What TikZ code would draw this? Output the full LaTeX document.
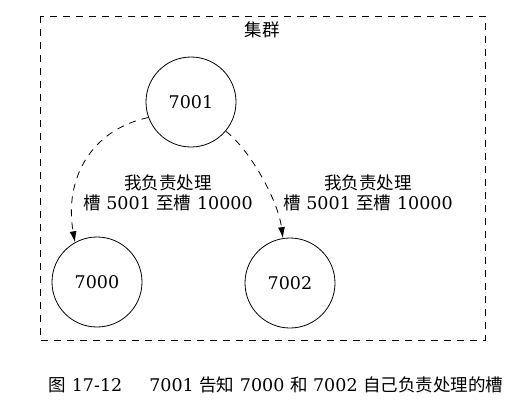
\documentclass[tikz,border=0pt]{standalone}
\usepackage{fontspec}
\setmainfont{DejaVu Serif}
\newfontfamily\cjk{Noto Sans CJK SC}
\usetikzlibrary{arrows.meta}

\begin{document}
\begin{tikzpicture}[x=1pt, y=-1pt,
    font=\fontsize{17.5}{19.5}\selectfont,
    server/.style={circle, draw, line width=0.8pt, minimum size=90pt, inner sep=0pt},
    slotlabel/.style={align=center, inner sep=0pt},
    move/.style={dash pattern=on 7pt off 6pt, line width=0.8pt, -{Latex[length=11pt, width=7pt]}}]
    \useasboundingbox (0,0) rectangle (525,408);

    % Cluster
    \draw[dash pattern=on 7pt off 6pt, line width=0.8pt] (40,16) rectangle (485,340);
    \node[inner sep=0pt] (cluster) at (262,30) {\cjk 集群};

    % Nodes
    \node[server] (n7001) at (191,102) {7001};
    \node[server] (n7000) at (97,282) {7000};
    \node[server] (n7002) at (290,283) {7002};

    % Edges
    \draw[move] (n7001.200) .. controls (90,130) and (64,180) .. (n7000.119);
    \draw[move] (n7001.320) .. controls (250,150) and (278,200) .. (n7002.99);

    % Labels
    \node[slotlabel] (left) at (168,193) {{\cjk 我负责处理}\\{\cjk 槽} 5001 {\cjk 至槽} 10000};
    \node[slotlabel] (right) at (368,193) {{\cjk 我负责处理}\\{\cjk 槽} 5001 {\cjk 至槽} 10000};
    \node[inner sep=0pt] (caption) at (276,385) {{\cjk 图} 17-12\hspace{27pt}7001 {\cjk 告知} 7000 {\cjk 和} 7002 {\cjk 自己负责处理的槽}};
\end{tikzpicture}
\end{document}
